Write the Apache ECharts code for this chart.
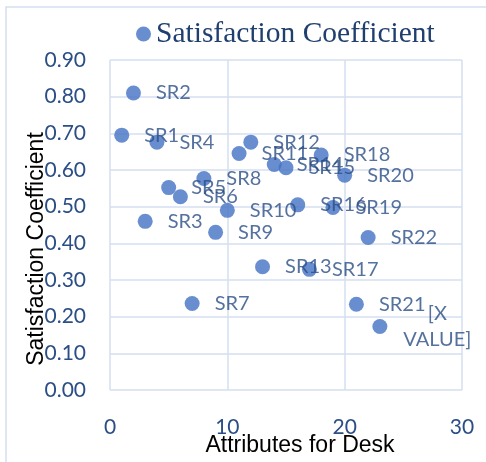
<!DOCTYPE html>
<html lang="en">
  <head>
    <meta charset="UTF-8" />
    <title>Satisfaction Coefficient</title>
    <script src="https://cdn.jsdelivr.net/npm/echarts@6/dist/echarts.min.js"></script>
  </head>
  <body style="margin: 0;">
    <div id="chart" style="width: 486px; height: 462px;"></div>
    <script>
      // one point per requirement, x = attribute no., y = satisfaction
      let pointNames = [
        'SR1', 'SR2', 'SR3', 'SR4', 'SR5', 'SR6', 'SR7', 'SR8', 'SR9', 'SR10', 'SR11', 'SR12',
        'SR13', 'SR14', 'SR15', 'SR16', 'SR17', 'SR18', 'SR19', 'SR20', 'SR21', 'SR22', '[X VALUE]'
      ]
      let xValues = [1, 2, 3, 4, 5, 6, 7, 8, 9, 10, 11, 12, 13, 14, 15, 16, 17, 18, 19, 20, 21, 22, 23]
      let yValues = [
        0.695, 0.81, 0.46, 0.676, 0.552, 0.527, 0.236, 0.577, 0.43, 0.49, 0.645, 0.676,
        0.336, 0.615, 0.606, 0.505, 0.329, 0.641, 0.498, 0.586, 0.234, 0.416, 0.173
      ]
      let xTicks = { min: 0, max: 30, interval: 10 }
      let yTicks = { min: 0, max: 0.9, interval: 0.1 }

      let blue = '#4472C4'
      let darkBlue = '#2B4E86'
      let gridColor = '#D5DFF1'

      let points = pointNames.map((name, i) => ({ name, value: [xValues[i], yValues[i]] }))
      // Excel wraps the placeholder label onto two centred lines
      points[points.length - 1].label = {
        formatter: '{c|[X}\n{c|VALUE]}',
        rich: { c: { width: 70, align: 'center', fontFamily: 'Lato', fontSize: 20, color: darkBlue, lineHeight: 26 } }
      }

      let chart = echarts.init(document.getElementById('chart'))
      chart.setOption({
        backgroundColor: '#ffffff',
        animation: false,
        graphic: [
          {
            type: 'rect',
            shape: { x: 6, y: 7, width: 500, height: 480 },
            style: { fill: 'none', stroke: gridColor, lineWidth: 1.5 },
            silent: true
          }
        ],
        legend: {
          left: 131,
          top: 14,
          icon: 'circle',
          itemWidth: 15,
          itemHeight: 15,
          textStyle: { fontFamily: 'Liberation Serif', fontSize: 29.5, color: '#203F6E' }
        },
        // fixed plot box, no auto shrinking for labels
        grid: { left: 110, right: 24, top: 60, bottom: 72, outerBoundsMode: 'none' },
        xAxis: {
          type: 'value',
          ...xTicks,
          name: 'Attributes for Desk',
          nameLocation: 'middle',
          nameGap: 44,
          nameMoveOverlap: false,
          nameTextStyle: { fontFamily: 'Liberation Sans', fontSize: 23, color: '#000', padding: [0, 0, 0, 28] },
          axisLine: { show: false },
          axisTick: { show: false },
          axisLabel: { fontFamily: 'Lato', fontSize: 21, color: darkBlue, margin: 27 },
          splitLine: { lineStyle: { color: gridColor, width: 1.5 } }
        },
        yAxis: {
          type: 'value',
          ...yTicks,
          name: 'Satisfaction Coefficient',
          nameLocation: 'middle',
          nameGap: 62,
          nameMoveOverlap: false,
          nameTextStyle: { fontFamily: 'Liberation Sans', fontSize: 23, color: '#000', padding: [0, 48, 0, 0] },
          axisLine: { show: false },
          axisTick: { show: false },
          axisLabel: {
            fontFamily: 'Lato',
            fontSize: 21,
            color: darkBlue,
            margin: 24,
            formatter: v => v.toFixed(2)
          },
          splitLine: { lineStyle: { color: gridColor, width: 1.5 } }
        },
        series: [
          {
            name: 'Satisfaction Coefficient',
            type: 'scatter',
            symbolSize: 15,
            itemStyle: { color: blue },
            label: {
              show: true,
              position: 'right',
              distance: 15,
              formatter: '{b}',
              fontFamily: 'Lato',
              fontSize: 20,
              color: darkBlue
            },
            data: points
          }
        ]
      })
    </script>
  </body>
</html>
